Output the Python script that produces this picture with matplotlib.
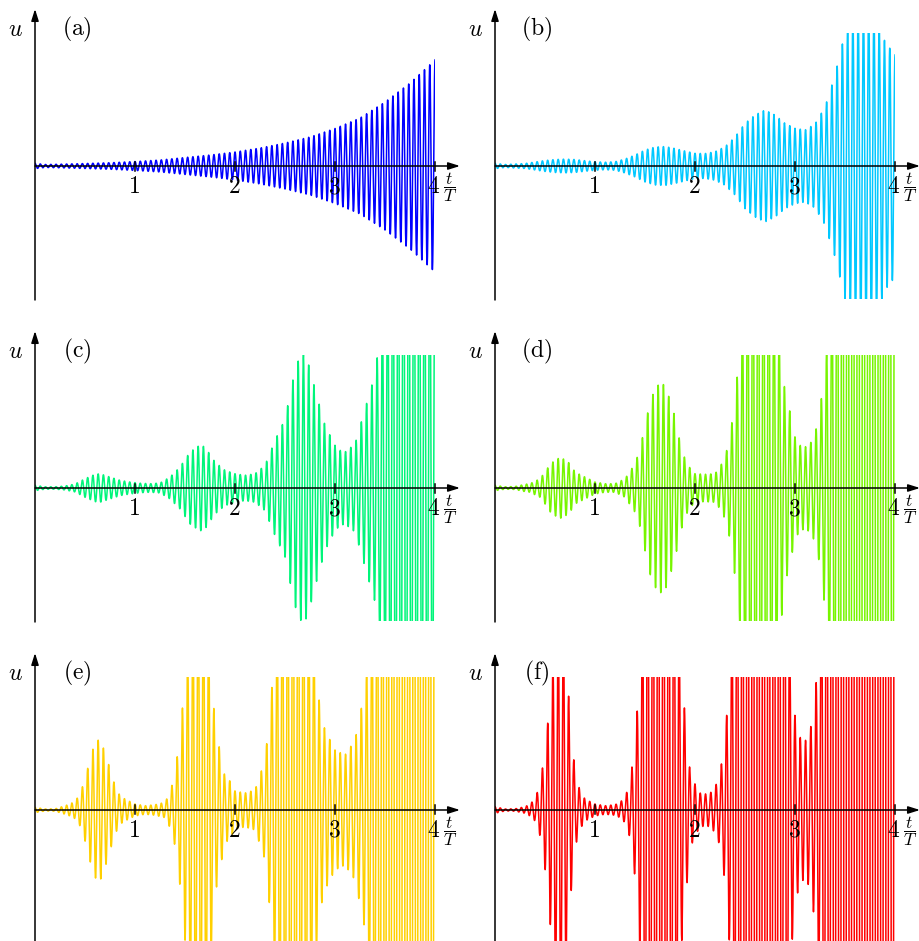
import numpy as np
import matplotlib.pyplot as plt

plt.rcParams['mathtext.fontset'] = 'cm'

# oscillation: cycles per period T
cycles_per_T = 19.0

# envelope of u (peak height), at the given t/T
t_a = [0, 0.1, 0.25, 0.5, 0.75, 1, 1.25, 1.5, 1.75, 2, 2.25, 2.5, 2.75, 3, 3.25, 3.5, 3.75, 4]
env_a = [.027, .015, .018, .025, .033, .045, .06, .085, .11, .14, .18, .23, .29, .375, .48, .64, .83, 1.06]

t_b = [round(0.1 * k, 1) for k in range(41)]
env_b = [.027, .015, .02, .025, .04, .055, .065, .069, .065, .053, .043, .038, .043, .07, .11, .16,
         .19, .195, .175, .15, .127, .125, .143, .193, .29, .427, .51, .56, .51, .427, .377, .36,
         .42, .59, .91, 1.33, 1.55, 1.62, 1.55, 1.24, 1.11]

t_c = [0, 0.1, 0.2, 0.3, 0.4, 0.5, 0.6, 0.65, 0.75, 0.85, 0.95, 1.05, 1.15, 1.25, 1.35, 1.45, 1.55,
       1.65, 1.7, 1.8, 1.9, 2.0, 2.1, 2.2, 2.3, 2.4, 2.5, 2.55, 2.6, 2.65, 2.7, 2.75, 2.8, 2.9, 3.0,
       3.05, 3.1, 3.2, 3.3, 3.4, 3.5, 3.6, 3.7, 3.8, 3.9, 4.0]
env_c = [.027, .012, .012, .02, .04, .093, .137, .143, .11, .077, .06, .048, .043, .05, .11, .21, .36,
         .43, .41, .26, .177, .143, .127, .143, .227, .477, .69, .94, 1.18, 1.32, 1.34, 1.19, .99, .627,
         .427, .377, .36, .44, .79, 1.14, 1.9, 3.2, 4.0, 3.6, 3.0, 2.7]

t_d = [0, 0.1, 0.2, 0.3, 0.35, 0.45, 0.5, 0.55, 0.6, 0.65, 0.7, 0.75, 0.8, 0.9, 1.0, 1.1, 1.2, 1.3,
       1.4, 1.45, 1.5, 1.55, 1.6, 1.65, 1.7, 1.75, 1.8, 1.85, 1.9, 1.95, 2.0, 2.1, 2.2, 2.25, 2.3,
       2.35, 2.4, 2.45, 2.5, 2.6, 2.65, 2.7, 2.8, 2.85, 2.9, 2.95, 3.0, 3.05, 3.1, 3.15, 3.2, 3.25,
       3.3, 3.35, 3.4, 3.5, 3.65, 3.8, 4.0]
env_d = [.027, .012, .015, .037, .043, .093, .16, .237, .277, .305, .283, .243, .16, .11, .06, .043,
         .043, .093, .243, .39, .627, .86, .99, 1.05, 1.027, .877, .71, .46, .29, .2, .143, .137, .143,
         .21, .31, .51, .89, 1.4, 2.2, 3.3, 3.6, 3.4, 2.2, 1.45, .96, .76, .51, .427, .41, .44, .54,
         .777, 1.21, 1.8, 3.0, 7.0, 12.0, 10.0, 5.0]

t_e = [0, 0.1, 0.2, 0.3, 0.35, 0.4, 0.45, 0.5, 0.55, 0.6, 0.65, 0.7, 0.75, 0.8, 0.85, 0.9, 1.0, 1.1,
       1.2, 1.3, 1.35, 1.4, 1.45, 1.5, 1.6, 1.65, 1.7, 1.75, 1.8, 1.85, 1.9, 1.95, 2.0, 2.1, 2.2,
       2.3, 2.35, 2.4, 2.6, 2.8, 2.85, 2.9, 3.0, 3.1, 3.2, 3.3, 3.35, 3.5, 3.7, 4.0]
env_e = [.027, .01, .012, .043, .06, .087, .16, .31, .51, .677, .71, .577, .41, .243, .143, .11, .06,
         .043, .053, .077, .177, .36, .76, 1.3, 2.2, 2.4, 2.2, 1.6, .85, .59, .33, .29, .19, .17, .2,
         .5, 1.0, 1.6, 4.0, 1.6, 1.0, .8, .6, .55, .7, 1.2, 1.8, 5.0, 10.0, 8.0]

t_f = [0, 0.1, 0.2, 0.3, 0.35, 0.4, 0.45, 0.5, 0.55, 0.6, 0.65, 0.7, 0.73, 0.77, 0.8, 0.85, 0.9, 1.0,
       1.1, 1.2, 1.25, 1.3, 1.35, 1.4, 1.45, 1.5, 1.65, 1.8, 1.85, 1.9, 1.95, 2.0, 2.05, 2.1, 2.15,
       2.2, 2.25, 2.3, 2.35, 2.45, 2.65, 2.9, 2.95, 3.0, 3.05, 3.1, 3.15, 3.2, 3.25, 3.4, 3.7, 4.0]
env_f = [.033, .01, .012, .033, .06, .11, .26, .59, 1.11, 1.7, 2.0, 1.7, 1.22, .71, .377, .193, .11,
         .06, .043, .053, .077, .127, .277, .677, 1.4, 3.0, 5.0, 3.0, 1.5, .96, .39, .26, .17, .16,
         .167, .227, .36, .727, 1.4, 4.0, 10.0, 4.0, 1.6, .94, .727, .687, .777, 1.127, 1.8, 8.0,
         20.0, 10.0]

names = ['a', 'b', 'c', 'd', 'e', 'f']
times = [t_a, t_b, t_c, t_d, t_e, t_f]
envs = [env_a, env_b, env_c, env_d, env_e, env_f]
colors = ['#0000ff', '#00c8ff', '#00f57a', '#77f500', '#ffd000', '#ff0000']
xticks = [1, 2, 3, 4]

W, H = 920, 941
fig = plt.figure(figsize=(W / 100, H / 100), dpi=100)

col_left = [35, 495]       # pixel x of t=0
row_zero = [166, 488, 810]  # pixel y of u=0
half = 133
t = np.linspace(0, 4, 8000)

for i in range(6):
    row, col = divmod(i, 2)
    ax = fig.add_axes([col_left[col] / W, 1 - (row_zero[row] + half) / H, 400 / W, 2 * half / H])
    env = np.interp(t, times[i], envs[i])
    u = env * np.cos(2 * np.pi * cycles_per_T * t)
    ax.plot(t, u, color=colors[i], lw=1.1, zorder=2)
    ax.set_xlim(0, 4)
    ax.set_ylim(-1.33, 1.33)
    ax.axis('off')

    arrow = dict(arrowstyle='-|>,head_length=0.7,head_width=0.22', color='black', lw=1.1,
                 shrinkA=0, shrinkB=0)
    ax.annotate('', xy=(4.25, 0), xytext=(0, 0), arrowprops=arrow, annotation_clip=False, zorder=4)
    ax.annotate('', xy=(0, 1.57), xytext=(0, -1.34), arrowprops=arrow, annotation_clip=False, zorder=4)
    for k in xticks:
        ax.plot([k, k], [-0.045, 0.045], color='black', lw=1.1, clip_on=False, zorder=4)
        ax.text(k - 0.01, -0.2, f'${k}$', ha='center', va='center', fontsize=17)
    ax.text(4.155, -0.21, r'$\dfrac{t}{T}$', ha='center', va='center', fontsize=12.5)
    ax.text(-0.2, 1.37, r'$u$', ha='center', va='center', fontsize=17)
    ax.text(0.42, 1.37, rf'$(\mathrm{{{names[i]}}})$', ha='center', va='center', fontsize=17)

fig.savefig('out.png', dpi=100)
